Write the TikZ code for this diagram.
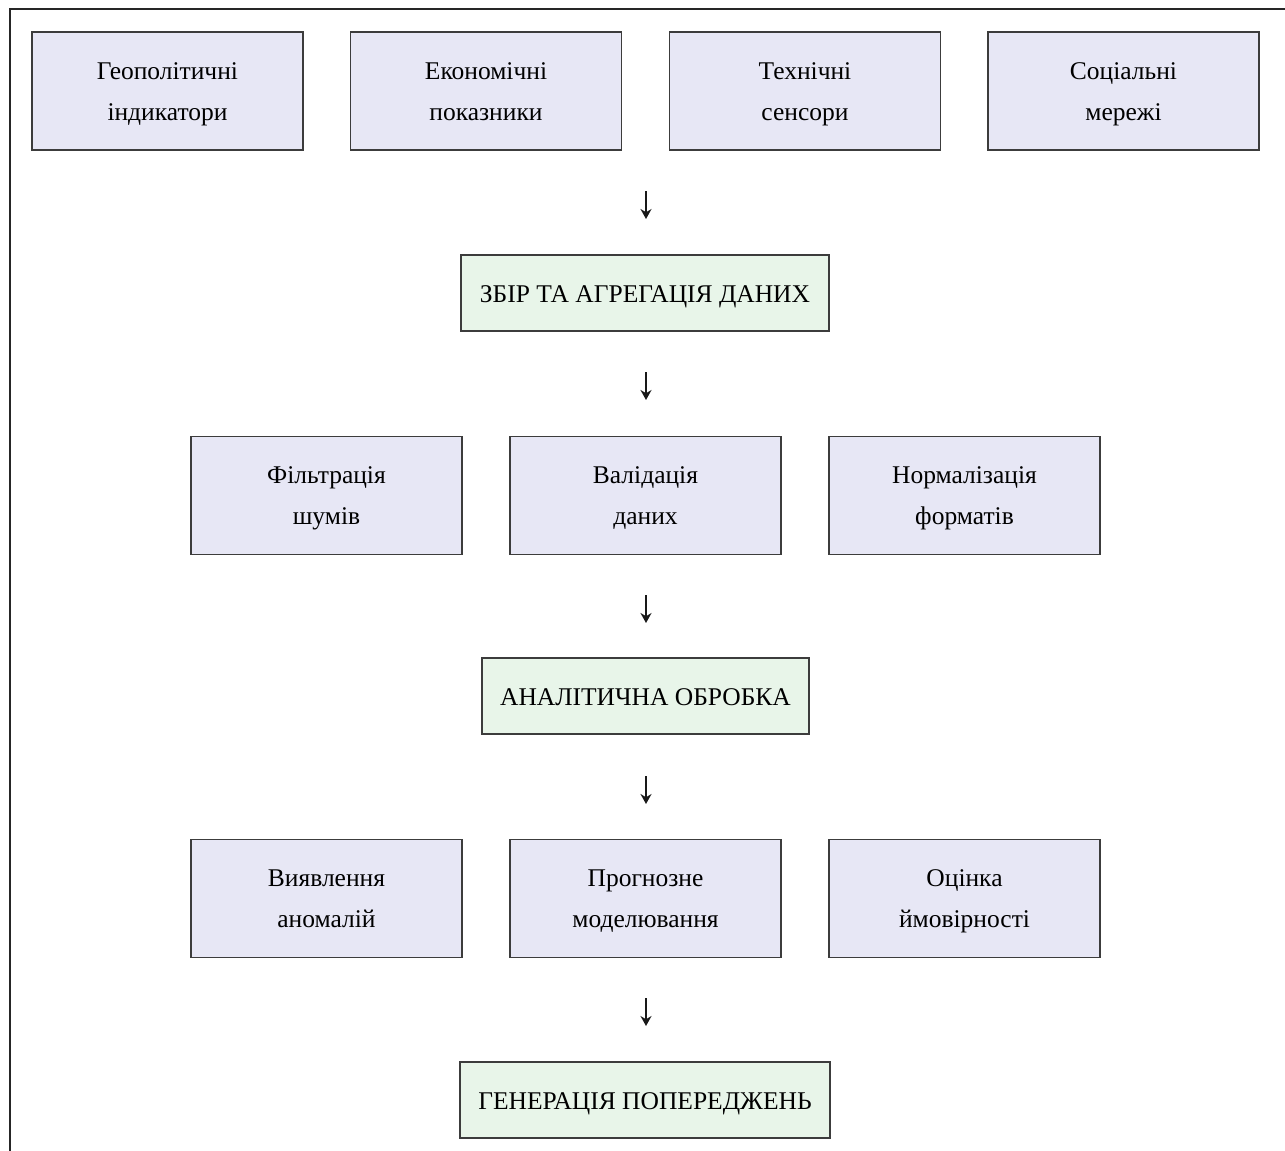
\documentclass[tikz,border=0pt]{standalone}
\usepackage{fontspec}
\setmainfont{Liberation Serif}
\usetikzlibrary{arrows.meta}
\definecolor{boxblue}{RGB}{231,231,245}
\definecolor{boxgreen}{RGB}{232,245,233}
\definecolor{edge}{RGB}{60,60,60}
% fixed line box so that every two-line label sits at the same height
\newcommand{\linestrut}{\rule[-11pt]{0pt}{39pt}}
\tikzset{
  itembox/.style={draw=edge, line width=1.3pt, fill=boxblue, minimum width=271pt,
    minimum height=118pt, align=center, inner sep=0pt,
    font=\fontsize{25.5}{41}\selectfont},
  stagebox/.style={draw=edge, line width=1.3pt, fill=boxgreen,
    minimum height=76pt, align=center, inner sep=0pt,
    text height=18pt, text depth=0pt,
    font=\fontsize{25.5}{41}\selectfont},
  flowarrow/.style={line width=1.6pt, draw=black!90,
    -{Stealth[length=10pt, width=11pt]}},
  framefig/.style={line width=2pt, draw=black!85}
}
\begin{document}
\begin{tikzpicture}[x=1pt,y=-1pt]
\useasboundingbox (0,0) rectangle (1285,1151);
% outer frame (only top and left edges fall inside the page)
\draw[framefig] (1285,8.5) -- (9.5,8.5) -- (9.5,1151);

% data sources
\node[itembox] (geo) at (167.5,91) {\linestrut Геополітичні\\\linestrut індикатори};
\node[itembox] (eco) at (486,91) {\linestrut Економічні\\\linestrut показники};
\node[itembox] (tech) at (805,91) {\linestrut Технічні\\\linestrut сенсори};
\node[itembox] (soc) at (1123.5,91) {\linestrut Соціальні\\\linestrut мережі};

\coordinate (a1s) at (646,191); \coordinate (a1e) at (646,219);
\draw[flowarrow] (a1s) -- (a1e);
\node[stagebox, minimum width=368pt] (collect) at (645,293) {ЗБІР ТА АГРЕГАЦІЯ ДАНИХ};
\coordinate (a2s) at (646,372); \coordinate (a2e) at (646,400);
\draw[flowarrow] (a2s) -- (a2e);

% preprocessing
\node[itembox] (filt) at (326.5,495.5) {\linestrut Фільтрація\\\linestrut шумів};
\node[itembox] (valid) at (645.5,495.5) {\linestrut Валідація\\\linestrut даних};
\node[itembox] (norm) at (964.5,495.5) {\linestrut Нормалізація\\\linestrut форматів};

\coordinate (a3s) at (646,595); \coordinate (a3e) at (646,623);
\draw[flowarrow] (a3s) -- (a3e);
\node[stagebox, minimum width=327pt] (anal) at (645.5,696) {АНАЛІТИЧНА ОБРОБКА};
\coordinate (a4s) at (646,776); \coordinate (a4e) at (646,804);
\draw[flowarrow] (a4s) -- (a4e);

% analytics
\node[itembox] (anom) at (326.5,898.5) {\linestrut Виявлення\\\linestrut аномалій};
\node[itembox] (pred) at (645.5,898.5) {\linestrut Прогнозне\\\linestrut моделювання};
\node[itembox] (prob) at (964.5,898.5) {\linestrut Оцінка\\\linestrut ймовірності};

\coordinate (a5s) at (646,998); \coordinate (a5e) at (646,1026);
\draw[flowarrow] (a5s) -- (a5e);
\node[stagebox, minimum width=370pt] (alert) at (645,1100) {ГЕНЕРАЦІЯ ПОПЕРЕДЖЕНЬ};
\end{tikzpicture}
\end{document}
